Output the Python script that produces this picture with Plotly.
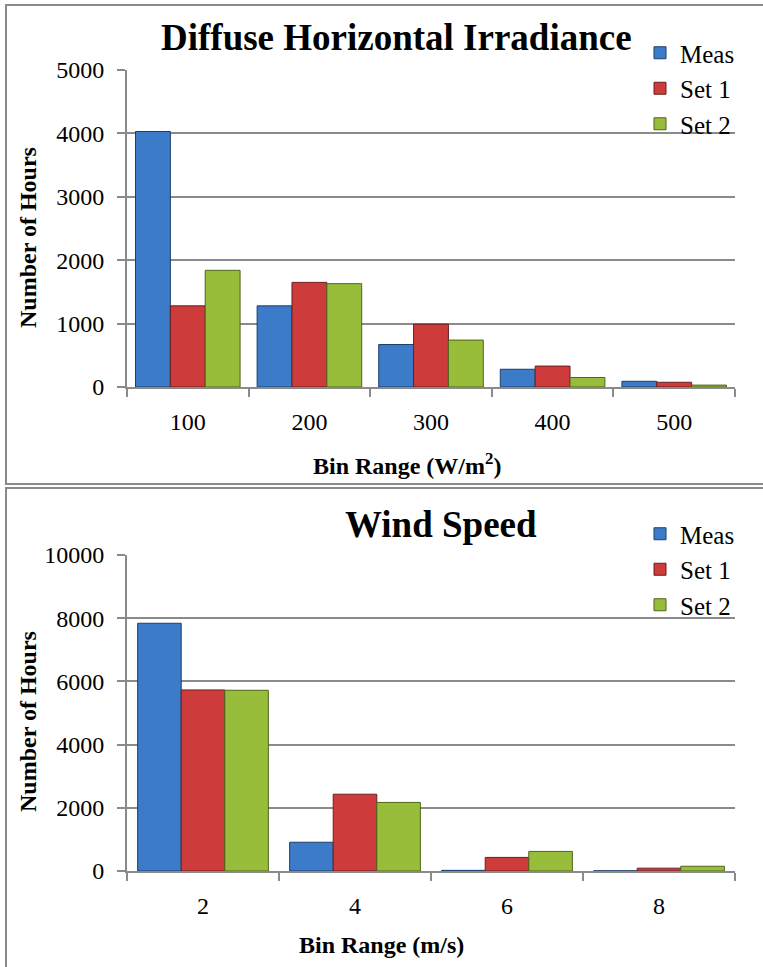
import plotly.graph_objects as go

# ---------------- data ----------------
series_names = ["Meas", "Set 1", "Set 2"]

dhi_bins = ["100", "200", "300", "400", "500"]
dhi_meas = [4030, 1280, 670, 280, 90]
dhi_set1 = [1280, 1650, 990, 330, 75]
dhi_set2 = [1840, 1630, 740, 150, 30]

ws_bins = ["2", "4", "6", "8"]
ws_meas = [7840, 910, 20, 5]
ws_set1 = [5730, 2430, 430, 90]
ws_set2 = [5720, 2170, 620, 150]

dhi_ticks = [0, 1000, 2000, 3000, 4000, 5000]
ws_ticks = [0, 2000, 4000, 6000, 8000, 10000]

# ---------------- style ----------------
W, H = 763, 967
FONT = "Liberation Serif, Times New Roman, serif"
fills = ["#3c7bc8", "#cd3b3b", "#97bd3a"]
edges = ["#1d3e6a", "#6a1f1f", "#4e651c"]
GRID = "#8a8a8a"


def px_x(p):
    return p / W


def px_y(p):
    return 1 - p / H


fig = go.Figure()

top_sets = [dhi_meas, dhi_set1, dhi_set2]
bot_sets = [ws_meas, ws_set1, ws_set2]
for i, name in enumerate(series_names):
    fig.add_trace(go.Bar(
        x=dhi_bins, y=top_sets[i], name=name, xaxis="x", yaxis="y",
        marker=dict(color=fills[i], line=dict(color=edges[i], width=1)),
        legend="legend", showlegend=True,
    ))
for i, name in enumerate(series_names):
    fig.add_trace(go.Bar(
        x=ws_bins, y=bot_sets[i], name=name, xaxis="x2", yaxis="y2",
        marker=dict(color=fills[i], line=dict(color=edges[i], width=1)),
        legend="legend2", showlegend=True,
    ))

xdom = [px_x(127), px_x(735)]
axis_common = dict(
    automargin=False,
    showline=True, linecolor=GRID, linewidth=2,
    ticks="outside", ticklen=8, tickcolor=GRID, tickwidth=2,
    tickfont=dict(family=FONT, size=24, color="black"),
)

fig.update_layout(
    width=W, height=H, autosize=False,
    margin=dict(l=0, r=0, t=0, b=0, pad=0),
    paper_bgcolor="white", plot_bgcolor="white",
    barmode="group", bargap=0.14, bargroupgap=0,
    font=dict(family=FONT, color="black"),
    xaxis=dict(domain=xdom, anchor="y", type="category", tickson="boundaries",
               showgrid=False, ticklabelstandoff=12, **axis_common),
    yaxis=dict(domain=[px_y(387), px_y(70)], anchor="x", range=[0, 5000],
               tickvals=dhi_ticks, ticktext=[str(v) for v in dhi_ticks],
               showgrid=True, gridcolor=GRID, gridwidth=2,
               zeroline=False, ticklabelstandoff=8, **axis_common),
    xaxis2=dict(domain=xdom, anchor="y2", type="category", tickson="boundaries",
                showgrid=False, ticklabelstandoff=12, **axis_common),
    yaxis2=dict(domain=[px_y(871), px_y(555)], anchor="x2", range=[0, 10000],
                tickvals=ws_ticks, ticktext=[str(v) for v in ws_ticks],
                showgrid=True, gridcolor=GRID, gridwidth=2,
                zeroline=False, ticklabelstandoff=8, **axis_common),
    legend=dict(x=px_x(640), y=px_y(30), xanchor="left", yanchor="top",
                font=dict(family=FONT, size=25, color="black"),
                bgcolor="rgba(0,0,0,0)", tracegroupgap=0),
    legend2=dict(x=px_x(640), y=px_y(511), xanchor="left", yanchor="top",
                 font=dict(family=FONT, size=25, color="black"),
                 bgcolor="rgba(0,0,0,0)", tracegroupgap=0),
    shapes=[
        dict(type="rect", xref="paper", yref="paper",
             x0=px_x(6), x1=px_x(775), y0=px_y(484), y1=px_y(5),
             line=dict(color="#8a8a8a", width=2), fillcolor="rgba(0,0,0,0)"),
        dict(type="rect", xref="paper", yref="paper",
             x0=px_x(6), x1=px_x(775), y0=px_y(980), y1=px_y(488),
             line=dict(color="#8a8a8a", width=2), fillcolor="rgba(0,0,0,0)"),
    ],
    annotations=[
        dict(text="<b>Diffuse Horizontal Irradiance</b>", xref="paper", yref="paper",
             x=px_x(396), y=px_y(37), xanchor="center", yanchor="middle",
             showarrow=False, font=dict(family=FONT, size=37, color="black")),
        dict(text="<b>Wind Speed</b>", xref="paper", yref="paper",
             x=px_x(441), y=px_y(524), xanchor="center", yanchor="middle",
             showarrow=False, font=dict(family=FONT, size=37, color="black")),
        dict(text="<b>Number of Hours</b>", xref="paper", yref="paper",
             x=px_x(28), y=px_y(238), xanchor="center", yanchor="middle",
             textangle=-90, showarrow=False, font=dict(family=FONT, size=24, color="black")),
        dict(text="<b>Number of Hours</b>", xref="paper", yref="paper",
             x=px_x(28), y=px_y(722), xanchor="center", yanchor="middle",
             textangle=-90, showarrow=False, font=dict(family=FONT, size=24, color="black")),
        dict(text="<b>Bin Range (W/m<sup>2</sup>)</b>", xref="paper", yref="paper",
             x=px_x(407), y=px_y(464), xanchor="center", yanchor="middle",
             showarrow=False, font=dict(family=FONT, size=24, color="black")),
        dict(text="<b>Bin Range (m/s)</b>", xref="paper", yref="paper",
             x=px_x(381), y=px_y(945), xanchor="center", yanchor="middle",
             showarrow=False, font=dict(family=FONT, size=24, color="black")),
    ],
)

fig.write_html("out.html", config={"displayModeBar": False},
               post_script="document.body.style.margin='0px';")
